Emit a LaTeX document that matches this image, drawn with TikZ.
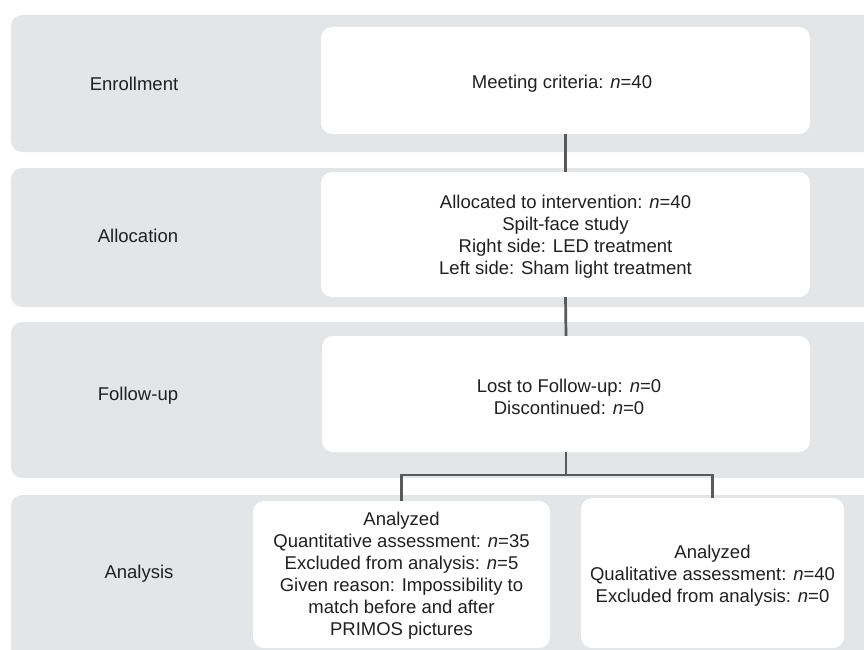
\documentclass[tikz,border=0pt]{standalone}
\usepackage{fontspec}
\setmainfont{Liberation Sans}
\definecolor{band}{HTML}{E4E5E7}
\definecolor{txt}{HTML}{202020}
\definecolor{conn}{HTML}{595959}
\begin{document}
\begin{tikzpicture}[x=1pt,y=-1pt,
  font=\fontsize{18.5}{22}\selectfont,
  bandbox/.style={fill=band,rounded corners=11pt},
  wbox/.style={fill=white,rounded corners=11pt,inner sep=0pt},
  boxtext/.style={inner sep=0pt,align=center,text=txt},
  stagelabel/.style={text=txt,inner sep=0pt},
  conline/.style={draw=conn,line width=2.7pt}]
\useasboundingbox (0,0) rectangle (864,650);
\clip (0,0) rectangle (864,650);
% bands
\fill[bandbox] (11,15) rectangle (900,152);
\fill[bandbox] (11,168) rectangle (900,307);
\fill[bandbox] (11,322) rectangle (900,478);
\fill[bandbox] (11,495) rectangle (900,700);
% stage labels
\node[stagelabel] (l1) at (134,84) {Enrollment};
\node[stagelabel] (l2) at (138,236) {Allocation};
\node[stagelabel] (l3) at (138,396) {Follow-up};
\node[stagelabel] (l4) at (139,574) {Analysis};
% boxes
\node[wbox,minimum width=489pt,minimum height=107pt] (enr) at (565.5,80.5) {};
\node[wbox,minimum width=489pt,minimum height=125pt] (alc) at (565.5,234.5) {};
\node[wbox,minimum width=488pt,minimum height=116pt] (fol) at (566,394) {};
\node[wbox,minimum width=297pt,minimum height=147pt] (anL) at (401.5,574.5) {};
\node[wbox,minimum width=263pt,minimum height=150pt] (anR) at (712.5,573) {};
% box texts
\node[boxtext] (tenr) at (562,84) {Meeting criteria: \textit{n}=40};
\node[boxtext] (talc) at (565.5,236.5)
  {Allocated to intervention: \textit{n}=40\\Spilt-face study\\Right side: LED treatment\\Left side: Sham light treatment};
\node[boxtext] (tfol) at (569,397)
  {Lost to Follow-up: \textit{n}=0\\Discontinued: \textit{n}=0};
\node[boxtext] (tanL) at (401.5,575.5)
  {Analyzed\\Quantitative assessment: \textit{n}=35\\Excluded from analysis: \textit{n}=5\\Given reason: Impossibility to\\match before and after\\PRIMOS pictures};
\node[boxtext] (tanR) at (712.5,575.5)
  {Analyzed\\Qualitative assessment: \textit{n}=40\\Excluded from analysis: \textit{n}=0};
% connectors
\coordinate (j) at (566,475);
\draw[conline] (enr.south) -- (alc.north);
\draw[conline] (alc.south) -- (fol.north);
\draw[conline] (fol.south) -- (j);
\draw[conline] (anL.north) |- (j) -| (anR.north);
\end{tikzpicture}
\end{document}
